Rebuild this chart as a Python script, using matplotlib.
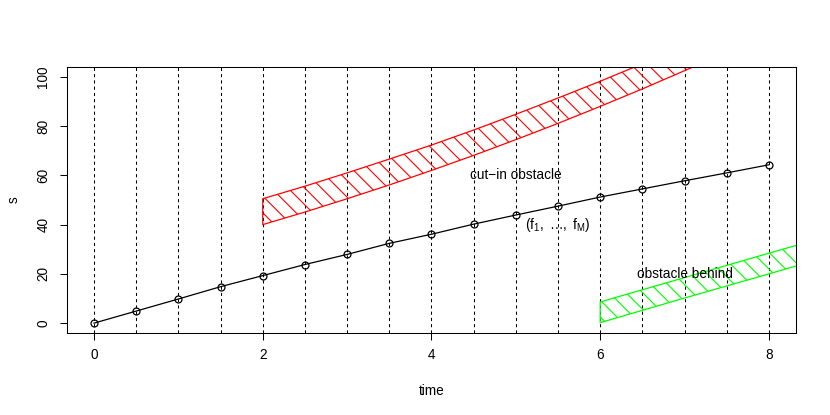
import matplotlib
matplotlib.use("Agg")
import matplotlib.pyplot as plt

plt.rcParams['font.family'] = ['Liberation Sans', 'DejaVu Sans']
plt.rcParams['mathtext.fontset'] = 'custom'
plt.rcParams['mathtext.rm'] = 'Liberation Sans'
plt.rcParams['mathtext.it'] = 'Liberation Sans'
plt.rcParams['hatch.linewidth'] = 0.8

# trajectory of the ego vehicle
t = [0, 0.5, 1, 1.5, 2, 2.5, 3, 3.5, 4, 4.5, 5, 5.5, 6, 6.5, 7, 7.5, 8]
s = [0, 4.9, 9.8, 14.8, 19.3, 23.8, 27.9, 32.4, 36.1, 40.2, 43.9, 47.5, 51.2, 54.5, 57.8, 61, 64.3]

# cut-in obstacle (red band)
t_cut = [2, 2.5, 3, 3.5, 4, 4.5, 5, 5.5, 6, 6.5, 7, 7.5, 8]
cut_lo = [40, 45.1, 50.5, 56.1, 62, 68.1, 74.5, 81.1, 88, 95.1, 102.5, 110.1, 118]
cut_hi = [50.5, 55.6, 61, 66.6, 72.3, 78.4, 84.8, 91.4, 98.2, 105.3, 112.7, 120.3, 128.2]

# obstacle behind (green band)
t_beh = [6, 7, 8, 8.5]
beh_lo = [0.2, 10.2, 20, 25]
beh_hi = [8.6, 18.5, 28.4, 33.3]

fig = plt.figure(figsize=(8.3, 4.15), dpi=100)
ax = fig.add_axes([0.0807, 0.1976, 0.8783, 0.641])

for tt in t:
    ax.axvline(tt, color='black', lw=0.75, linestyle=(0, (3, 3)), zorder=1)

ax.fill_between(t_cut, cut_lo, cut_hi, facecolor='none', edgecolor='red',
                hatch='\\\\', lw=0.9, zorder=2)
ax.fill_between(t_beh, beh_lo, beh_hi, facecolor='none', edgecolor='#00ff00',
                hatch='\\\\', lw=0.9, zorder=2)

ax.plot(t, s, color='black', lw=0.9, marker='o', markersize=5,
        markerfacecolor='none', markeredgewidth=0.9, zorder=3)

fs = 9.8
ax.text(5, 60, 'cut\u2212in obstacle', ha='center', va='center', fontsize=fs)
ax.text(5.5, 40, r'$(\mathrm{f_1,\ \ldots,\ f_M})$', ha='center', va='center', fontsize=fs)
ax.text(7, 20, 'obstacle behind', ha='center', va='center', fontsize=fs)

ax.set_xlim(-0.32, 8.32)
ax.set_ylim(-4, 104)
ax.set_xticks([0, 2, 4, 6, 8])
ax.set_yticks([0, 20, 40, 60, 80, 100])
ax.tick_params(length=5, width=0.75, labelsize=fs)
ax.tick_params(axis='x', pad=6)
ax.tick_params(axis='y', pad=7)
for lab in ax.get_yticklabels():
    lab.set_rotation(90)
    lab.set_va('center')
for sp in ax.spines.values():
    sp.set_linewidth(0.75)

ax.set_xlabel('time', fontsize=fs, labelpad=16)
ax.set_ylabel('s', fontsize=fs, labelpad=11)

fig.savefig('out.png', dpi=100)
